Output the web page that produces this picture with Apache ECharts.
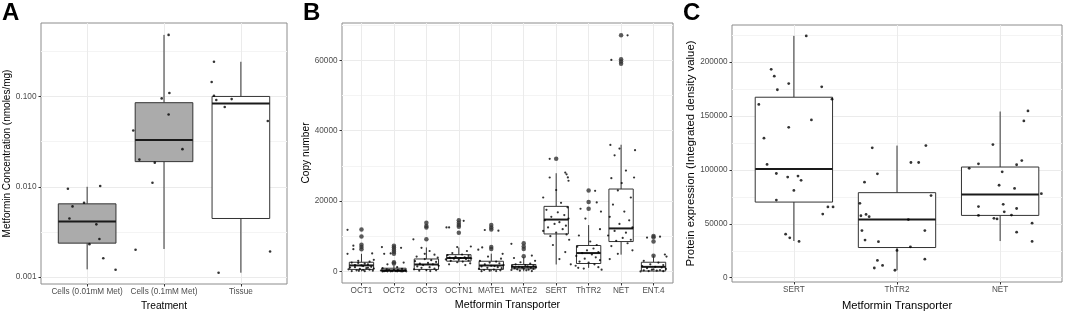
<!DOCTYPE html>
<html>
<head>
<meta charset="utf-8">
<script src="https://cdn.jsdelivr.net/npm/echarts@6/dist/echarts.min.js"></script>
<style>
html, body { margin: 0; padding: 0; background: #fff; }
#main { width: 1065px; height: 316px; }
</style>
</head>
<body>
<div id="main"></div>
<script>
// ---- panel A: metformin concentration (log scale) ----
var treatments = ['Cells (0.01mM Met)', 'Cells (0.1mM Met)', 'Tissue'];
// [min, Q1, median, Q3, max]
var concBoxes = [
	[0.00122, 0.00238, 0.00413, 0.00648, 0.0100],
	[0.00205, 0.0190, 0.0330, 0.0853, 0.480],
	[0.00112, 0.00446, 0.0833, 0.100, 0.242]
];
// jitter points: [offset, value]
var concPoints = [
	[[-0.25, 0.0095], [-0.19, 0.00607], [-0.23, 0.00446], [-0.04, 0.00665], [0.17, 0.0102],
	 [0.12, 0.00384], [0.16, 0.00264], [0.03, 0.00232], [0.21, 0.00162], [0.37, 0.00121]],
	[[0.06, 0.48], [0.07, 0.109], [-0.03, 0.0951], [0.06, 0.0632], [-0.40, 0.0420],
	 [0.24, 0.0261], [-0.32, 0.0200], [-0.12, 0.0185], [-0.15, 0.0111], [-0.37, 0.00201]],
	[[-0.35, 0.242], [-0.38, 0.1445], [-0.35, 0.1018], [-0.32, 0.0912], [-0.12, 0.0935],
	 [-0.21, 0.0765], [0.35, 0.0535], [0.38, 0.00192], [-0.29, 0.00112]]
];
var concTicks = [0.001, 0.01, 0.1];
var concMinor = [0.00316, 0.0316, 0.316];

// ---- panel B: copy number ----
var transporters = ['OCT1', 'OCT2', 'OCT3', 'OCTN1', 'MATE1', 'MATE2', 'SERT', 'ThTR2', 'NET', 'ENT.4'];
var copyBoxes = [
	[0, 560, 1700, 2600, 5000],
	[0, 100, 300, 900, 1700],
	[0, 560, 1960, 3530, 6800],
	[2600, 2900, 3800, 4760, 6800],
	[0, 560, 1680, 2880, 5040],
	[0, 730, 1290, 1960, 4100],
	[1960, 10640, 14730, 18480, 27900],
	[1000, 2240, 5210, 7360, 13160],
	[4760, 8480, 12210, 23410, 36000],
	[0, 100, 1290, 2600, 4500]
];
var copyOutliers = [
	[11900, 9900, 7600, 6900, 6300],
	[7280, 6800, 6160, 5600, 5040, 2600, 2240],
	[13800, 12900, 12500, 9100],
	[14560, 13800, 13160, 12700, 11000],
	[13160, 12500, 11930, 6900, 6330],
	[8000, 7080, 6330, 4280],
	[32000],
	[22960, 19690, 17820],
	[67100, 60300, 59640, 58990],
	[10080, 9690, 8480, 4480]
];
var copyPoints = [
	[[-0.43, 11800], [-0.25, 7300], [-0.25, 6300], [-0.43, 5000], [0.33, 5100], [0.38, 3300], [-0.1, 3000],
	 [0.25, 2800], [-0.3, 2500], [-0.1, 2400], [0.1, 2200], [0.2, 2000], [-0.2, 1800], [0.0, 1700],
	 [0.05, 1500], [0.3, 1300], [-0.2, 1200], [-0.35, 1100], [0.2, 1000], [0.15, 900], [-0.05, 700],
	 [-0.4, 600], [0.25, 500], [0.05, 400], [-0.15, 300], [0.35, 200], [-0.3, 100], [0.1, 50],
	 [-0.08, 150], [0.38, 800]],
	[[-0.37, 6900], [0.22, 6700], [-0.3, 5000], [-0.1, 5100], [0.3, 2500], [-0.2, 2000], [0.1, 1200],
	 [-0.35, 900], [0.25, 700], [0.0, 500], [-0.15, 400], [0.35, 300], [-0.4, 250], [0.15, 200],
	 [-0.25, 150], [0.05, 100], [0.3, 80], [-0.05, 60], [0.2, 50], [-0.3, 40], [0.1, 30], [-0.2, 20],
	 [0.38, 10], [-0.1, 5], [0.25, 0], [-0.35, 0], [0.12, 350], [-0.22, 600]],
	[[-0.4, 9100], [-0.15, 6700], [0.1, 5800], [0.25, 4760], [-0.3, 4200], [0.35, 3900], [-0.05, 3500],
	 [0.15, 3200], [-0.35, 2900], [0.3, 2700], [0.05, 2400], [-0.2, 2200], [0.2, 2000], [-0.1, 1800],
	 [0.38, 1600], [-0.28, 1400], [0.1, 1200], [-0.15, 1000], [0.25, 800], [-0.38, 600], [0.0, 400],
	 [0.3, 300], [-0.22, 200], [0.12, 100], [-0.05, 5000]],
	[[-0.38, 12500], [-0.3, 12500], [0.15, 14360], [0.37, 7080], [-0.05, 6900], [0.25, 5800], [-0.2, 5200],
	 [0.1, 4800], [-0.35, 4600], [0.3, 4400], [-0.1, 4200], [0.18, 4000], [-0.28, 3900], [0.05, 3800],
	 [0.38, 3700], [-0.15, 3600], [0.22, 3500], [-0.4, 3400], [0.0, 3300], [0.3, 3100], [-0.25, 3000],
	 [0.12, 2800], [-0.05, 2600], [0.35, 2300], [-0.3, 2000], [0.2, 1800]],
	[[-0.2, 11760], [0.22, 11560], [-0.4, 6160], [-0.28, 6800], [0.35, 5000], [-0.1, 4200], [0.3, 3600],
	 [-0.35, 3000], [0.15, 2800], [-0.05, 2500], [0.25, 2300], [-0.2, 2000], [0.38, 1800], [0.0, 1600],
	 [-0.3, 1400], [0.2, 1200], [-0.12, 1000], [0.32, 900], [-0.38, 700], [0.08, 500], [-0.22, 400],
	 [0.28, 300], [-0.05, 200], [0.15, 100], [-0.3, 50], [0.1, 1500]],
	[[-0.38, 7840], [0.25, 4500], [-0.3, 3800], [0.35, 3000], [-0.1, 2600], [0.2, 2200], [-0.25, 2000],
	 [0.05, 1800], [0.3, 1600], [-0.35, 1500], [0.12, 1400], [-0.15, 1300], [0.38, 1200], [-0.05, 1100],
	 [0.22, 1000], [-0.28, 900], [0.0, 800], [0.3, 700], [-0.2, 600], [0.15, 500], [-0.38, 400],
	 [0.08, 300], [-0.12, 200], [0.25, 100]],
	[[-0.2, 32000], [0.28, 28090], [0.32, 27600], [0.36, 26700], [0.38, 25760], [-0.2, 26690], [0.0, 23130],
	 [-0.4, 21000], [0.15, 19500], [0.35, 18200], [-0.3, 17500], [0.05, 16800], [0.25, 16000],
	 [-0.15, 15500], [0.38, 15000], [-0.35, 14500], [0.1, 14000], [-0.05, 13500], [0.3, 13000],
	 [-0.25, 12500], [0.2, 12000], [-0.4, 11500], [0.0, 11000], [0.32, 10500], [-0.18, 10000],
	 [0.4, 9000], [-0.1, 7500], [0.28, 5500], [0.1, 3500], [0.45, 2000]],
	[[0.2, 22900], [0.25, 19600], [-0.25, 17800], [0.38, 17000], [-0.1, 15000], [0.35, 12000], [-0.3, 10200],
	 [0.05, 8500], [0.25, 7500], [-0.35, 7000], [0.15, 6500], [-0.05, 6000], [0.3, 5500], [-0.2, 5200],
	 [0.1, 4800], [-0.38, 4400], [0.22, 4000], [-0.12, 3600], [0.35, 3200], [-0.28, 2800], [0.0, 2500],
	 [0.18, 2000], [-0.4, 1600], [0.3, 1200], [-0.15, 800], [0.4, 500], [-0.32, 1000]],
	[[0.2, 67100], [-0.3, 60100], [-0.33, 35940], [-0.05, 34900], [0.43, 34450], [-0.2, 33000], [0.15, 28650],
	 [-0.3, 26500], [0.4, 26690], [0.02, 25100], [-0.1, 23000], [0.3, 21000], [-0.25, 19000], [0.1, 17000],
	 [-0.35, 15500], [0.25, 14500], [-0.05, 13500], [0.35, 12500], [-0.2, 11500], [0.15, 11000],
	 [-0.4, 10200], [0.05, 9500], [0.3, 9000], [-0.15, 8700], [0.2, 8000], [-0.3, 7200], [0.35, 6000],
	 [-0.1, 5000], [-0.35, 3500]],
	[[0.2, 9880], [-0.2, 9600], [0.35, 4800], [0.4, 4200], [-0.3, 3000], [0.15, 2500], [-0.1, 2000],
	 [0.3, 1800], [-0.35, 1500], [0.05, 1300], [0.25, 1100], [-0.2, 900], [0.38, 700], [-0.05, 500],
	 [0.2, 400], [-0.3, 300], [0.1, 200], [-0.15, 100], [0.3, 50], [-0.4, 0], [0.0, 600]]
];
var copyTicks = [0, 20000, 40000, 60000];
var copyMinor = [10000, 30000, 50000, 70000];

// ---- panel C: protein expression ----
var proteins = ['SERT', 'ThTR2', 'NET'];
var protBoxes = [
	[34040, 70180, 100900, 167470, 224400],
	[6900, 28000, 53900, 78900, 122600],
	[34000, 57800, 77100, 102700, 154200]
];
var protPoints = [
	[[0.12, 224400], [-0.22, 193400], [-0.19, 187000], [-0.16, 174400], [-0.05, 180100], [0.27, 177100],
	 [-0.34, 160800], [0.37, 165700], [0.17, 146400], [-0.05, 139500], [-0.29, 129500], [-0.26, 105100],
	 [-0.17, 96700], [-0.06, 93400], [0.04, 94300], [0.07, 90400], [0.0, 81000], [-0.17, 72000],
	 [0.28, 59000], [0.33, 65700], [0.38, 65700], [-0.08, 40400], [-0.04, 37000], [0.05, 33700]],
	[[0.28, 122600], [-0.24, 120500], [0.135, 106900], [0.21, 106900], [-0.315, 88600], [-0.19, 96400],
	 [0.33, 76200], [-0.36, 69000], [-0.35, 57500], [-0.30, 58700], [-0.27, 56600], [0.11, 53900],
	 [-0.34, 43700], [0.27, 43700], [-0.31, 34900], [-0.18, 33400], [0.0, 25300], [0.13, 28600],
	 [0.27, 17200], [-0.19, 16000], [-0.14, 11400], [-0.22, 9000], [-0.02, 6900]],
	[[0.27, 154800], [0.23, 145500], [-0.07, 123500], [-0.21, 105700], [-0.30, 101500], [0.21, 108700],
	 [0.16, 104800], [0.02, 98200], [-0.01, 85800], [0.14, 82800], [0.40, 78000], [0.03, 68100],
	 [-0.21, 66000], [0.16, 64200], [0.04, 61100], [0.11, 58100], [-0.21, 57800], [-0.06, 55100],
	 [-0.03, 54500], [0.31, 50600], [0.16, 42200], [0.31, 33700]]
];
var protTicks = [0, 50000, 100000, 150000, 200000];
var protMinor = [25000, 75000, 125000, 175000, 225000];

var concFill = ['#ababab', '#ababab', '#ffffff'];

var myChart = echarts.init(document.getElementById('main'));

var FONT = 'Liberation Sans';
var tickColor = '#4d4d4d';

function boxRenderer(fills) {
	return function(params, api) {
		var x = api.value(0);
		var lo = api.coord([x, api.value(1)]);
		var q1 = api.coord([x, api.value(2)]);
		var md = api.coord([x, api.value(3)]);
		var q3 = api.coord([x, api.value(4)]);
		var hi = api.coord([x, api.value(5)]);
		var half = api.size([0.75, 0], [x, api.value(3)])[0] / 2;
		var stroke = '#333333';
		var fill = fills ? fills[params.dataIndex] : '#ffffff';
		return {
			type: 'group',
			children: [{
				type: 'line',
				shape: { x1: hi[0], y1: hi[1], x2: q3[0], y2: q3[1] },
				style: { stroke: stroke, lineWidth: 1 }
			}, {
				type: 'line',
				shape: { x1: q1[0], y1: q1[1], x2: lo[0], y2: lo[1] },
				style: { stroke: stroke, lineWidth: 1 }
			}, {
				type: 'rect',
				shape: { x: q3[0] - half, y: q3[1], width: half * 2, height: q1[1] - q3[1] },
				style: { fill: fill, stroke: stroke, lineWidth: 1 }
			}, {
				type: 'line',
				shape: { x1: md[0] - half, y1: md[1], x2: md[0] + half, y2: md[1] },
				style: { stroke: '#1a1a1a', lineWidth: 2 }
			}]
		};
	};
}

function boxData(boxes) {
	return boxes.map(function(b, i) {
		return [i].concat(b);
	});
}

function jitterData(points) {
	var out = [];
	points.forEach(function(list, i) {
		list.forEach(function(p) {
			out.push([i + p[0], p[1]]);
		});
	});
	return out;
}

function outlierData(outliers) {
	var out = [];
	outliers.forEach(function(list, i) {
		list.forEach(function(v) {
			out.push([i, v]);
		});
	});
	return out;
}

function makeX(gridIndex, names, title, labelSize, titleSize, gap) {
	var idx = names.map(function(n, i) { return i; });
	return {
		type: 'value',
		gridIndex: gridIndex,
		min: -0.6,
		max: names.length - 0.4,
		name: title,
		nameLocation: 'middle',
		nameGap: gap,
		nameTextStyle: { color: '#000', fontSize: titleSize, fontFamily: FONT },
		axisLine: { show: false, onZero: false },
		axisTick: { show: true, length: 2.5, customValues: idx, lineStyle: { color: '#333' } },
		axisLabel: {
			customValues: idx,
			color: tickColor,
			fontSize: labelSize,
			fontFamily: FONT,
			margin: 4,
			formatter: function(v) { return names[Math.round(v)]; }
		},
		splitLine: { show: true, lineStyle: { color: '#ebebeb', width: 1 } },
		minorSplitLine: { show: false }
	};
}

function makeY(gridIndex, type, min, max, ticks, title, gap, labelSize, titleSize, fmt) {
	return {
		type: type,
		gridIndex: gridIndex,
		min: min,
		max: max,
		name: title,
		nameLocation: 'middle',
		nameRotate: 90,
		nameGap: gap,
		nameTextStyle: { color: '#000', fontSize: titleSize, fontFamily: FONT },
		axisLine: { show: false, onZero: false },
		axisTick: { show: true, length: 2.5, customValues: ticks, lineStyle: { color: '#333' } },
		axisLabel: {
			customValues: ticks,
			color: tickColor,
			fontSize: labelSize,
			fontFamily: FONT,
			margin: 4.5,
			formatter: fmt
		},
		splitLine: { show: true, lineStyle: { color: '#ebebeb', width: 1 } }
	};
}

function makeMinorY(gridIndex, type, min, max, ticks) {
	return {
		type: type,
		gridIndex: gridIndex,
		min: min,
		max: max,
		position: 'left',
		axisLine: { show: false, onZero: false },
		axisTick: { show: false, customValues: ticks },
		axisLabel: { show: false, customValues: ticks },
		splitLine: { show: true, lineStyle: { color: '#f4f4f4', width: 1 } }
	};
}

var plainFmt = function(v) { return String(Math.round(v)); };
var letterStyle = { fontSize: 24, fontWeight: 'bold', fontFamily: FONT, color: '#000' };

var option = {
	animation: false,
	title: [
		{ text: 'A', left: 2, top: 1, padding: 0, textStyle: letterStyle },
		{ text: 'B', left: 303, top: 1, padding: 0, textStyle: letterStyle },
		{ text: 'C', left: 683, top: 1, padding: 0, textStyle: letterStyle }
	],
	grid: [
		{ left: 41, top: 23, width: 246, height: 266, show: true, borderColor: '#8c8c8c', borderWidth: 1, backgroundColor: '#fff' },
		{ left: 342, top: 23, width: 331, height: 264, show: true, borderColor: '#8c8c8c', borderWidth: 1, backgroundColor: '#fff' },
		{ left: 732, top: 25, width: 330, height: 264, show: true, borderColor: '#8c8c8c', borderWidth: 1, backgroundColor: '#fff' }
	],
	xAxis: [
		makeX(0, treatments, 'Treatment', 8.2, 10.2, 17),
		makeX(1, transporters, 'Metformin Transporter', 8.2, 10.7, 17),
		makeX(2, proteins, 'Metformin Transporter', 8.2, 11.2, 18)
	],
	yAxis: [
		makeY(0, 'log', 0.00084, 0.65, concTicks, 'Metformin Concentration (nmoles/mg)', 26, 8.3, 10, function(v) { return v.toFixed(3); }),
		makeY(1, 'value', -3300, 70600, copyTicks, 'Copy number', 30, 8.2, 10.2, plainFmt),
		makeY(2, 'value', -4000, 234500, protTicks, 'Protein expression (Integrated density value)', 35, 8.2, 11.4, plainFmt),
		makeMinorY(0, 'log', 0.00084, 0.65, concMinor),
		makeMinorY(1, 'value', -3300, 70600, copyMinor),
		makeMinorY(2, 'value', -4000, 234500, protMinor)
	],
	series: [{
		type: 'custom',
		xAxisIndex: 0, yAxisIndex: 0,
		renderItem: boxRenderer(concFill),
		encode: { x: 0, y: [1, 2, 3, 4, 5] },
		data: boxData(concBoxes),
		z: 2
	}, {
		type: 'scatter',
		xAxisIndex: 0, yAxisIndex: 0,
		symbolSize: 2.6,
		itemStyle: { color: '#000' },
		data: jitterData(concPoints),
		z: 3
	}, {
		type: 'custom',
		xAxisIndex: 1, yAxisIndex: 1,
		renderItem: boxRenderer(null),
		encode: { x: 0, y: [1, 2, 3, 4, 5] },
		data: boxData(copyBoxes),
		z: 2
	}, {
		type: 'scatter',
		xAxisIndex: 1, yAxisIndex: 1,
		symbolSize: 4.5,
		itemStyle: { color: '#333' },
		data: outlierData(copyOutliers),
		z: 3
	}, {
		type: 'scatter',
		xAxisIndex: 1, yAxisIndex: 1,
		symbolSize: 2.2,
		itemStyle: { color: '#000' },
		data: jitterData(copyPoints),
		z: 4
	}, {
		type: 'custom',
		xAxisIndex: 2, yAxisIndex: 2,
		renderItem: boxRenderer(null),
		encode: { x: 0, y: [1, 2, 3, 4, 5] },
		data: boxData(protBoxes),
		z: 2
	}, {
		type: 'scatter',
		xAxisIndex: 2, yAxisIndex: 2,
		symbolSize: 2.8,
		itemStyle: { color: '#000' },
		data: jitterData(protPoints),
		z: 3
	}]
};

myChart.setOption(option);
</script>
</body>
</html>
